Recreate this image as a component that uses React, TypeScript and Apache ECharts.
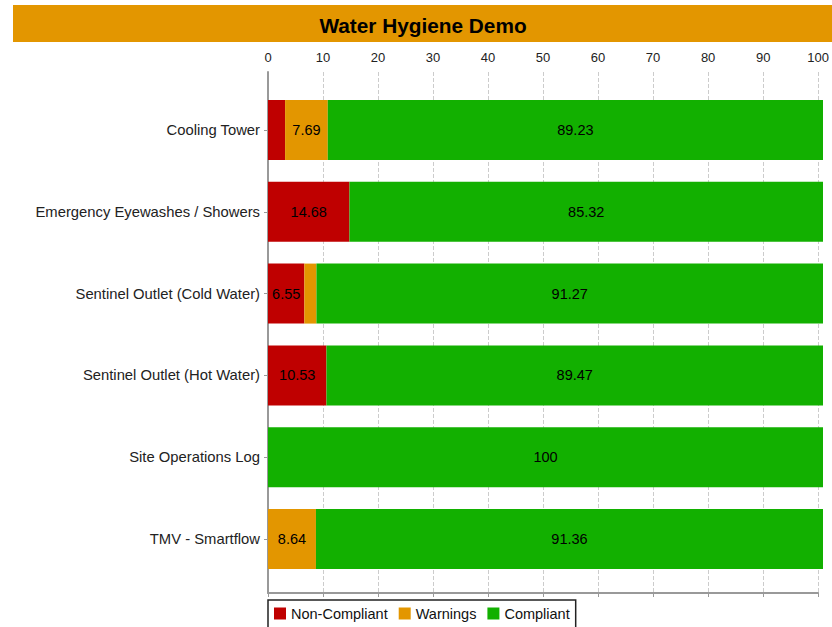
import React, { useEffect, useRef } from "react";
import * as echarts from "echarts";

const categories = [
  "Cooling Tower",
  "Emergency Eyewashes / Showers",
  "Sentinel Outlet (Cold Water)",
  "Sentinel Outlet (Hot Water)",
  "Site Operations Log",
  "TMV - Smartflow",
];
const nonCompliant = [3.08, 14.68, 6.55, 10.53, 0, 0];
const warnings = [7.69, 0, 2.18, 0, 0, 8.64];
const compliant = [89.23, 85.32, 91.27, 89.47, 100, 91.36];

const FONT = "'Liberation Sans', Arial, sans-serif";

export default function App() {
  const ref = useRef<HTMLDivElement>(null);
  useEffect(() => {
    if (!ref.current) return;
    const chart = echarts.init(ref.current, undefined, { renderer: "svg" });
    const labelFmt = (p: any) => (p.value >= 5 ? String(p.value) : "");
    const mk = (name: string, data: number[], color: string) => ({
      name,
      type: "bar",
      stack: "total",
      xAxisIndex: 0,
      yAxisIndex: 0,
      barWidth: 60,
      data,
      itemStyle: { color },
      label: {
        show: true,
        position: "inside",
        color: "#000",
        fontSize: 14.5,
        fontFamily: FONT,
        formatter: labelFmt,
      },
    });
    chart.setOption({
      animation: false,
      backgroundColor: "#fff",
      textStyle: { fontFamily: FONT },
      graphic: [
        {
          type: "rect",
          shape: { x: 13, y: 5, width: 830, height: 37 },
          style: { fill: "#E39600" },
          z: 0,
        },
        {
          type: "text",
          x: 423,
          y: 25,
          style: {
            text: "Water Hygiene Demo",
            fill: "#000",
            font: `bold 20.8px ${FONT}`,
            textAlign: "center",
            textVerticalAlign: "middle",
          },
          z: 1,
        },
      ],
      legend: {
        data: ["Non-Compliant", "Warnings", "Compliant"],
        left: 268,
        top: 600,
        itemWidth: 12,
        itemHeight: 12,
        itemGap: 11,
        icon: "rect",
        borderColor: "#222",
        borderWidth: 1.5,
        borderRadius: 0,
        padding: [6, 6, 8, 6],
        textStyle: { fontSize: 14.5, color: "#111", fontFamily: FONT },
      },
      grid: [
        { left: 268, top: 89, width: 555, height: 491, containLabel: false },
        { left: 268, top: 72, width: 555, height: 521, containLabel: false },
      ],
      xAxis: [
        {
          type: "value",
          gridIndex: 0,
          min: 0,
          max: 100,
          show: false,
          splitLine: { show: false },
        },
        {
          type: "value",
          gridIndex: 1,
          position: "top",
          min: 0,
          max: 100,
          interval: 10,
          axisLine: { show: true, lineStyle: { color: "#999", width: 2 } },
          axisTick: { show: true, inside: true, length: 4, lineStyle: { color: "#999" } },
          axisLabel: { color: "#222", fontSize: 13, margin: 8, fontFamily: FONT },
          splitLine: { show: true, lineStyle: { color: "#ccc", type: "dashed" } },
        },
      ],
      yAxis: [
        {
          type: "category",
          gridIndex: 0,
          data: categories,
          inverse: true,
          axisLine: { show: false },
          axisTick: { show: true, alignWithLabel: true, length: 4, lineStyle: { color: "#999" } },
          axisLabel: { color: "#222", fontSize: 14.8, margin: 8, fontFamily: FONT },
        },
        {
          type: "value",
          gridIndex: 1,
          min: 0,
          max: 1,
          axisLine: { show: true, onZero: false, lineStyle: { color: "#999", width: 2 } },
          axisTick: { show: false },
          axisLabel: { show: false },
          splitLine: { show: false },
        },
      ],
      series: [
        mk("Non-Compliant", nonCompliant, "#BF0000"),
        mk("Warnings", warnings, "#E39600"),
        mk("Compliant", compliant, "#12B000"),
      ],
    });
    return () => chart.dispose();
  }, []);
  return (
    <div
      ref={ref}
      style={{ position: "absolute", left: 0, top: 0, width: 832, height: 627 }}
    />
  );
}
